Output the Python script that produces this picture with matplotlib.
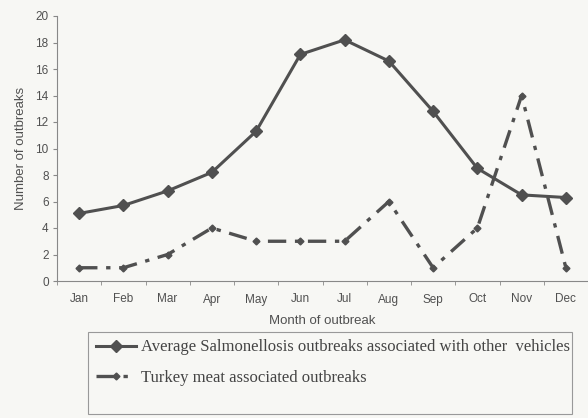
import numpy as np
import matplotlib
matplotlib.use('Agg')
import matplotlib.pyplot as plt
from matplotlib.patches import Rectangle

months = ['Jan', 'Feb', 'Mar', 'Apr', 'May', 'Jun',
          'Jul', 'Aug', 'Sep', 'Oct', 'Nov', 'Dec']
salmonellosis_avg = [5.1, 5.7, 6.8, 8.2, 11.3, 17.1, 18.2, 16.6, 12.8, 8.5, 6.5, 6.3]
turkey_outbreaks = [1, 1, 2, 4, 3, 3, 3, 6, 1, 4, 14, 1]
y_ticks = [0, 2, 4, 6, 8, 10, 12, 14, 16, 18, 20]

sans = ['Liberation Sans Narrow', 'Liberation Sans', 'DejaVu Sans']
serif = ['Liberation Serif', 'DejaVu Serif']
bg = '#f7f7f4'
ink = '#505050'

fig = plt.figure(figsize=(5.88, 4.18), dpi=100, facecolor=bg)
ax = fig.add_axes([57 / 588, 1 - 281 / 418, 1 - 57 / 588, (281 - 16) / 418])
ax.set_facecolor(bg)

x = np.arange(len(months))
l1, = ax.plot(x, salmonellosis_avg, color=ink, lw=2.2, marker='D',
              markersize=6, markerfacecolor=ink, markeredgecolor=ink,
              solid_joinstyle='miter')
l2, = ax.plot(x, turkey_outbreaks, color=ink, lw=2.4, marker='D',
              markersize=3.5, markerfacecolor=ink, markeredgecolor=ink,
              dashes=(5.5, 2.6, 1.3, 2.6))

ax.set_xlim(-0.5, 11.4)
ax.set_ylim(0, 20)
ax.set_yticks(y_ticks)
ax.set_xticks(x)
ax.set_xticklabels(months, fontfamily=sans, fontsize=8.5, color=ink)
ax.set_xticks(np.arange(-0.5, 12, 1), minor=True)
ax.tick_params(axis='x', which='major', length=0, pad=9)
ax.tick_params(axis='x', which='minor', length=3, color='#888888', direction='out')
ax.tick_params(axis='y', length=3, color='#888888', labelsize=8.5,
               labelcolor=ink, pad=3)
for lab in ax.get_yticklabels():
    lab.set_fontfamily(sans)

for side in ('top', 'right'):
    ax.spines[side].set_visible(False)
for side in ('left', 'bottom'):
    ax.spines[side].set_color('#888888')
    ax.spines[side].set_linewidth(0.8)

ax.set_xlabel('Month of outbreak', fontfamily=sans, fontsize=9.5, color=ink, labelpad=7)
ax.set_ylabel('Number of outbreaks', fontfamily=sans, fontsize=9.5, color=ink, labelpad=6)

# legend entries without frame, box drawn separately so it reaches the bottom
leg = fig.legend([l1, l2],
                 ['Average Salmonellosis outbreaks associated with other  vehicles',
                  'Turkey meat associated outbreaks'],
                 loc='upper left', bbox_to_anchor=(0.15, 0.01, 0.823, 0.196),
                 mode='expand', prop={'family': serif, 'size': 12},
                 labelcolor='#444444', frameon=False,
                 handlelength=2.4, handletextpad=0.3, labelspacing=0.85,
                 borderpad=0.45, borderaxespad=0)
fig.patches.append(Rectangle((88 / 588, 4 / 418), (572 - 88) / 588, (414 - 332) / 418,
                             transform=fig.transFigure, fill=False,
                             edgecolor='#999999', linewidth=0.8))

fig.savefig('out.png', dpi=100, facecolor=bg)
